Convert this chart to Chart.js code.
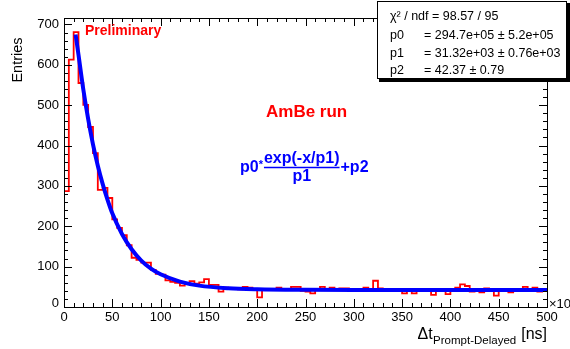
<!DOCTYPE html>
<html>
<head>
<meta charset="utf-8">
<script src="https://cdn.jsdelivr.net/npm/chart.js@4.4.1/dist/chart.umd.min.js"></script>
<style>
  html, body { margin:0; padding:0; background:#fff; }
  #wrap { width:570px; height:349px; }
</style>
</head>
<body>
<div id="wrap"><canvas id="grafico" width="570" height="349"></canvas></div>
<script>
// Δt prompt-delayed, 100 bins of 5 ns (0..500)
const binWidth = 5;
const contagens = [
  287, 613, 681, 555, 501, 446, 381, 290, 295, 270,
  217, 196, 178, 153, 122, 117, 110, 110, 92, 82,
  80, 66, 62, 60, 53, 58, 64, 58, 61, 69,
  55, 55, 38, 48, 46, 46, 44, 50, 48, 44,
  24, 42, 42, 42, 48, 42, 42, 50, 50, 40,
  38, 34, 42, 50, 42, 48, 42, 46, 46, 42,
  40, 42, 48, 42, 65, 46, 42, 44, 42, 42,
  34, 42, 34, 42, 42, 42, 30, 42, 42, 32,
  42, 48, 56, 52, 38, 40, 36, 46, 40, 28,
  42, 44, 36, 42, 44, 50, 40, 48, 38, 40
];

// fit curve
const ajusteX = [12, 15, 20, 25, 30, 35, 40, 45, 50, 60, 70, 80, 90, 100, 120, 140, 170, 200, 250, 300, 400, 500];
const ajusteY = [675, 625, 539, 466, 403, 350, 305, 266, 232, 181, 143, 115, 95, 81, 63, 53, 46.5, 44, 42.7, 42.4, 42.4, 42.4];

const xTicks = [0, 50, 100, 150, 200, 250, 300, 350, 400, 450, 500];
const yTicks = [0, 100, 200, 300, 400, 500, 600, 700];
const xMinor = 10, yMinor = 20;
const xMax = 500, yMax = 716;

const statLinhas = [
  ["χ² / ndf = 98.57 / 95", ""],
  ["p0", "= 294.7e+05 ± 5.2e+05"],
  ["p1", "= 31.32e+03 ± 0.76e+03"],
  ["p2", "= 42.37 ± 0.79"]
];

const FONTE = '"Liberation Sans", Arial, Helvetica, sans-serif';

const moldura = {
  id: 'moldura',
  afterDatasetsDraw(chart){
    const {ctx, chartArea:a, scales:{x, y}} = chart;
    ctx.save();
    ctx.strokeStyle = '#000';
    ctx.lineWidth = 1;
    ctx.strokeRect(a.left + 0.5, a.top + 0.5, a.right - a.left, a.bottom - a.top);

    // ticks pointing inward, all four sides
    ctx.beginPath();
    for(let v = 0; v <= xMax; v += xMinor){
      const px = Math.round(x.getPixelForValue(v)) + 0.5;
      const len = xTicks.includes(v) ? 8 : 4;
      ctx.moveTo(px, a.bottom); ctx.lineTo(px, a.bottom - len);
      ctx.moveTo(px, a.top); ctx.lineTo(px, a.top + len);
    }
    for(let v = 0; v <= yMax; v += yMinor){
      const py = Math.round(y.getPixelForValue(v)) + 0.5;
      const len = yTicks.includes(v) ? 8 : 4;
      ctx.moveTo(a.left, py); ctx.lineTo(a.left + len, py);
      ctx.moveTo(a.right, py); ctx.lineTo(a.right - len, py);
    }
    ctx.stroke();

    // tick labels
    ctx.fillStyle = '#000';
    ctx.font = '13px ' + FONTE;
    ctx.textAlign = 'right'; ctx.textBaseline = 'middle';
    yTicks.forEach(v=>{
      const py = y.getPixelForValue(v) - (v === 0 ? 4 : 0);
      ctx.fillText(String(v), a.left - 5, py);
    });
    ctx.textAlign = 'center'; ctx.textBaseline = 'top';
    xTicks.forEach(v=>{
      ctx.fillText(String(v), x.getPixelForValue(v), a.bottom + 4);
    });

    // x10^3 multiplier (cut by the canvas edge)
    ctx.textAlign = 'left'; ctx.textBaseline = 'alphabetic';
    ctx.font = '13px ' + FONTE;
    ctx.fillText('×10', a.right + 2, a.bottom + 1);
    ctx.font = '9px ' + FONTE;
    ctx.fillText('3', a.right + 24, a.bottom - 5);

    // axis titles
    ctx.textAlign = 'right';
    ctx.font = '16px ' + FONTE;
    let xr = a.right;
    ctx.fillText('[ns]', xr, 339);
    xr -= ctx.measureText('[ns]').width + 5;
    ctx.font = '11.5px ' + FONTE;
    ctx.fillText('Prompt-Delayed', xr, 344);
    xr -= ctx.measureText('Prompt-Delayed').width + 0.5;
    ctx.font = '16px ' + FONTE;
    ctx.fillText('Δt', xr, 339);

    ctx.save();
    ctx.translate(22, 60);
    ctx.rotate(-Math.PI/2);
    ctx.textAlign = 'center';
    ctx.font = '14.5px ' + FONTE;
    ctx.fillText('Entries', 0, 0);
    ctx.restore();

    // annotations
    ctx.textAlign = 'left';
    ctx.fillStyle = '#ff0000';
    ctx.font = 'bold 14px ' + FONTE;
    ctx.fillText('Preliminary', 85, 35);
    ctx.font = 'bold 17px ' + FONTE;
    ctx.fillText('AmBe run', 266, 117);

    // formula p0*exp(-x/p1)/p1+p2
    ctx.fillStyle = '#0000ff';
    ctx.strokeStyle = '#0000ff';
    ctx.font = 'bold 16px ' + FONTE;
    let fx = 240;
    ctx.fillText('p0', fx, 172);
    fx += ctx.measureText('p0').width;
    ctx.font = 'bold 11px ' + FONTE;
    ctx.fillText('*', fx, 168);
    fx += ctx.measureText('*').width + 1;
    ctx.font = 'bold 16px ' + FONTE;
    const num = 'exp(-x/p1)';
    const wNum = ctx.measureText(num).width;
    ctx.fillText(num, fx, 163);
    ctx.lineWidth = 1.5;
    ctx.beginPath(); ctx.moveTo(fx, 167.5); ctx.lineTo(fx + wNum, 167.5); ctx.stroke();
    ctx.textAlign = 'center';
    ctx.fillText('p1', fx + wNum/2, 181);
    ctx.textAlign = 'left';
    ctx.fillText('+p2', fx + wNum + 1, 172);

    // stats box
    const bx = 377, by = 1, bw = 190, bh = 78;
    ctx.fillStyle = '#000';
    ctx.fillRect(bx + 2, by + 2, bw + 1, bh + 1);
    ctx.fillStyle = '#fff';
    ctx.fillRect(bx, by, bw, bh);
    ctx.strokeStyle = '#000'; ctx.lineWidth = 1;
    ctx.strokeRect(bx + 0.5, by + 0.5, bw - 1, bh - 1);
    ctx.fillStyle = '#000';
    ctx.font = '12.5px ' + FONTE;
    const linhasY = [20, 39, 56.5, 74];
    statLinhas.forEach((l, i)=>{
      ctx.fillText(l[0], 390, linhasY[i]);
      if(l[1]) ctx.fillText(l[1], 424, linhasY[i]);
    });
    ctx.restore();
  }
};

const histo = contagens.map((c, i)=>({x: i*binWidth, y: c}));
histo.push({x: contagens.length*binWidth, y: contagens[contagens.length-1]});

const ctx = document.getElementById('grafico').getContext('2d');
const grafico = new Chart(ctx, {
  type: 'line',
  data: {
    datasets: [
      {
        label: 'ajuste',
        data: ajusteX.map((v, i)=>({x: v, y: ajusteY[i]})),
        borderColor: '#0000ff',
        borderWidth: 4,
        cubicInterpolationMode: 'monotone',
        pointRadius: 0,
        order: 0
      },
      {
        label: 'dt',
        data: histo,
        borderColor: '#ff0000',
        borderWidth: 1.8,
        stepped: true,
        pointRadius: 0,
        order: 1
      }
    ]
  },
  options: {
    responsive: false,
    animation: false,
    devicePixelRatio: 1,
    layout: { padding: { left: 64, right: 23, top: 18, bottom: 42 } },
    scales: {
      x: { type: 'linear', min: 0, max: xMax, display: false },
      y: { type: 'linear', min: 0, max: yMax, display: false }
    },
    plugins: { legend: { display: false }, tooltip: { enabled: false } }
  },
  plugins: [moldura]
});
</script>
</body>
</html>
